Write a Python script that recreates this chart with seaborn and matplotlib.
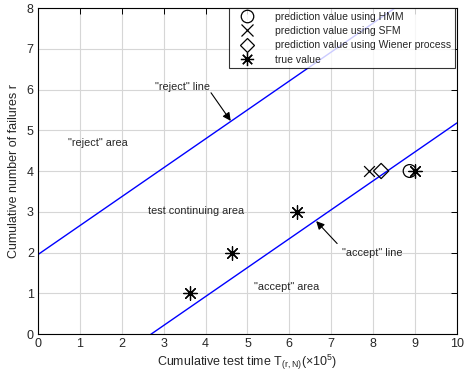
import matplotlib
matplotlib.use("Agg")
import matplotlib.pyplot as plt
from matplotlib.lines import Line2D
import seaborn as sns
import pandas as pd

sns.set_style("white")
plt.rcParams['font.family'] = ['Liberation Sans', 'DejaVu Sans']
plt.rcParams['mathtext.fontset'] = 'custom'
plt.rcParams['mathtext.rm'] = 'Liberation Sans'

# ---- data ----
line_x = [0, 10]
reject_r = [1.95, 9.05]
accept_r = [-1.92, 5.18]

true_t = [3.62, 4.63, 6.19, 8.99]
true_r = [1, 2, 3, 4]
hmm_t = [8.87]
hmm_r = [4]
sfm_t = [7.89]
sfm_r = [4]
wiener_t = [8.19]
wiener_r = [4]

legend_labels = ["prediction value using HMM", "prediction value using SFM",
                 "prediction value using Wiener process", "true value"]

fig = plt.figure(figsize=(4.65, 3.76), dpi=100)
ax = fig.add_axes([0.0817, 0.1117, 0.901, 0.867])

df_lines = pd.DataFrame({"t": line_x + line_x,
                         "r": reject_r + accept_r,
                         "which": ["reject"] * 2 + ["accept"] * 2})
sns.lineplot(data=df_lines, x="t", y="r", units="which", estimator=None,
             color="#0000FF", lw=1.0, ax=ax, legend=False)

star = (8, 2, 0)
sns.scatterplot(x=true_t, y=true_r, marker=star, s=95, color="k",
                linewidth=0.9, ax=ax, zorder=5)
sns.scatterplot(x=hmm_t, y=hmm_r, marker="o", s=85, facecolor="none",
                edgecolor="k", linewidth=0.9, ax=ax, zorder=5)
sns.scatterplot(x=sfm_t, y=sfm_r, marker="x", s=60, color="k",
                linewidth=0.9, ax=ax, zorder=5)
sns.scatterplot(x=wiener_t, y=wiener_r, marker="D", s=60, facecolor="none",
                edgecolor="k", linewidth=0.9, ax=ax, zorder=5)

ax.set_xlim(0, 10)
ax.set_ylim(0, 8)
ax.set_xticks(range(0, 11))
ax.set_yticks(range(0, 9))
ax.grid(True, color="#D6D6D6", lw=0.8)
ax.set_axisbelow(True)
for s in ax.spines.values():
    s.set_color("k")
    s.set_linewidth(0.8)
ax.tick_params(direction="in", length=4, width=0.7, top=True, right=True,
               labelsize=9, colors="k", pad=3)
ax.tick_params(axis="both", labelcolor="#262626")

ax.set_xlabel(r"Cumulative test time T$_{\mathregular{(r,N)}}$(×10$^{\mathregular{5}}$)",
              fontsize=9, color="#262626", labelpad=2)
ax.set_ylabel("Cumulative number of failures r", fontsize=9, color="#262626",
              labelpad=5)

tfs = 7.8
ax.text(3.45, 6.05, '"reject" line', fontsize=tfs, ha="center", va="center")
ax.text(1.44, 4.69, '"reject" area', fontsize=tfs, ha="center", va="center")
ax.text(3.78, 3.03, "test continuing area", fontsize=tfs, ha="center", va="center")
ax.text(5.93, 1.15, '"accept" area', fontsize=tfs, ha="center", va="center")
ax.text(7.98, 2.0, '"accept" line', fontsize=tfs, ha="center", va="center")

ax.annotate("", xy=(4.6, 5.23), xytext=(4.13, 5.92),
            arrowprops=dict(arrowstyle="-|>", color="k", lw=0.8,
                            mutation_scale=12, shrinkA=0, shrinkB=0))
ax.annotate("", xy=(6.64, 2.77), xytext=(7.14, 2.22),
            arrowprops=dict(arrowstyle="-|>", color="k", lw=0.8,
                            mutation_scale=12, shrinkA=0, shrinkB=0))

handles = [
    Line2D([], [], ls="none", marker="o", ms=9, mfc="none", mec="k", mew=0.9),
    Line2D([], [], ls="none", marker="x", ms=8, color="k", mew=0.9),
    Line2D([], [], ls="none", marker="D", ms=7.5, mfc="none", mec="k", mew=0.9),
    Line2D([], [], ls="none", marker=star, ms=9.5, color="k", mew=0.9),
]
leg = ax.legend(handles, legend_labels, loc="upper right",
                bbox_to_anchor=(0.995, 1.0), borderaxespad=0,
                fontsize=7.5, frameon=True, fancybox=False,
                handletextpad=1.3, labelspacing=0.42, borderpad=0.35,
                handlelength=2.75)
leg.get_frame().set_edgecolor("k")
leg.get_frame().set_linewidth(0.8)

fig.savefig("out.png", dpi=100)
